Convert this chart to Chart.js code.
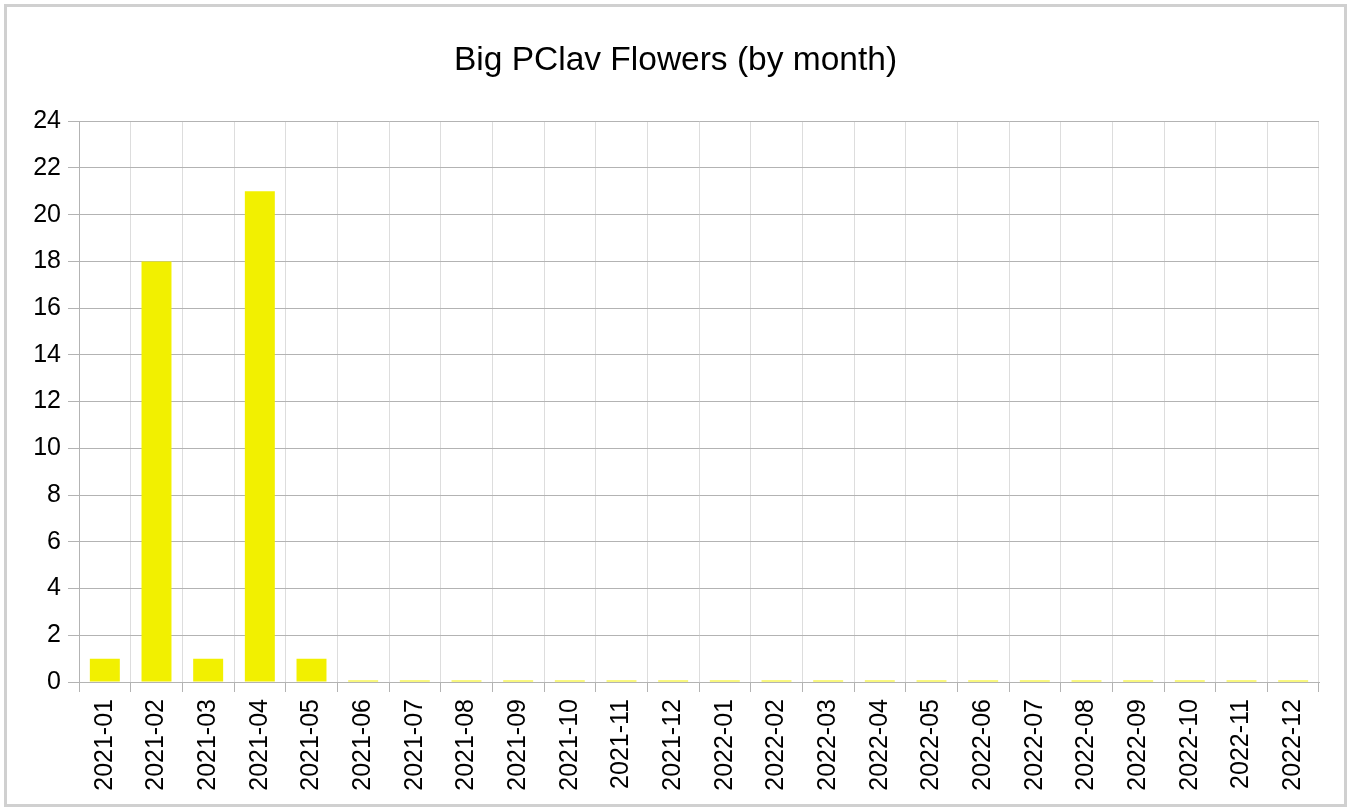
<!DOCTYPE html>
<html>
<head>
<meta charset="utf-8">
<script src="https://cdn.jsdelivr.net/npm/chart.js@4/dist/chart.umd.min.js"></script>
<style>
  html, body { margin: 0; padding: 0; background: #fff; }
  #wrap { position: relative; width: 1351px; height: 807px; overflow: hidden; }
  #frame {
    position: absolute; left: 4px; top: 4px; width: 1343px; height: 803px;
    box-sizing: border-box; border: 3px solid #d0d0d0; pointer-events: none;
  }
  canvas { position: absolute; left: 0; top: 0; }
</style>
</head>
<body>
<div id="wrap">
  <canvas id="chart" width="1351" height="807"></canvas>
  <div id="frame"></div>
</div>
<script>
const months = [
  '2021-01', '2021-02', '2021-03', '2021-04', '2021-05', '2021-06',
  '2021-07', '2021-08', '2021-09', '2021-10', '2021-11', '2021-12',
  '2022-01', '2022-02', '2022-03', '2022-04', '2022-05', '2022-06',
  '2022-07', '2022-08', '2022-09', '2022-10', '2022-11', '2022-12'
];
const flowers = [1, 18, 1, 21, 1, 0, 0, 0, 0, 0, 0, 0, 0, 0, 0, 0, 0, 0, 0, 0, 0, 0, 0, 0];
const yMin = 0;
const yMax = 24;
const yStep = 2;

function renderFlowerChart(canvasId) {
  const canvas = document.getElementById(canvasId);
  if (!canvas) {
    console.error(`Canvas with id ${canvasId} not found`);
    return;
  }
  const ctx = canvas.getContext('2d');
  const font = { family: '"Liberation Sans", Arial, sans-serif', size: 25 };

  const config = {
    type: 'bar',
    data: {
      labels: months,
      datasets: [{
        data: flowers,
        backgroundColor: '#f2f000',
        borderWidth: 0,
        barPercentage: 0.58,
        categoryPercentage: 1,
        minBarLength: 1.5
      }]
    },
    options: {
      responsive: false,
      animation: false,
      layout: { padding: 0 },
      plugins: {
        legend: { display: false },
        tooltip: { enabled: false },
        title: {
          display: true,
          text: 'Big PClav Flowers (by month)',
          color: '#000',
          font: { family: font.family, size: 33.5, weight: 'normal' },
          padding: { top: 41, bottom: 40 }
        }
      },
      scales: {
        x: {
          offset: true,
          grid: {
            offset: true,
            color: '#dddddd',
            tickColor: '#b3b3b3',
            tickLength: 10,
            lineWidth: 1
          },
          border: { display: true, color: '#b3b3b3', width: 1 },
          ticks: {
            color: '#000',
            font: font,
            minRotation: 90,
            maxRotation: 90,
            autoSkip: false,
            padding: 7
          },
          afterFit: (scale) => { scale.height = 125; }
        },
        y: {
          min: yMin,
          max: yMax,
          grid: {
            color: '#b3b3b3',
            tickColor: '#b3b3b3',
            tickLength: 11
          },
          border: { display: true, color: '#b3b3b3', width: 1 },
          ticks: {
            stepSize: yStep,
            color: '#000',
            font: font,
            padding: 7
          },
          afterFit: (scale) => { scale.width = 79; }
        },
        // empty right axis, only keeps the right margin so the title stays centred on the page
        yRight: {
          position: 'right',
          min: yMin,
          max: yMax,
          grid: { display: false },
          border: { display: false },
          ticks: { display: false },
          afterFit: (scale) => { scale.width = 32; }
        }
      }
    }
  };

  const existingChart = Chart.getChart(ctx);
  if (existingChart) {
    existingChart.destroy();
  }
  return new Chart(ctx, config);
}

renderFlowerChart('chart');
</script>
</body>
</html>
